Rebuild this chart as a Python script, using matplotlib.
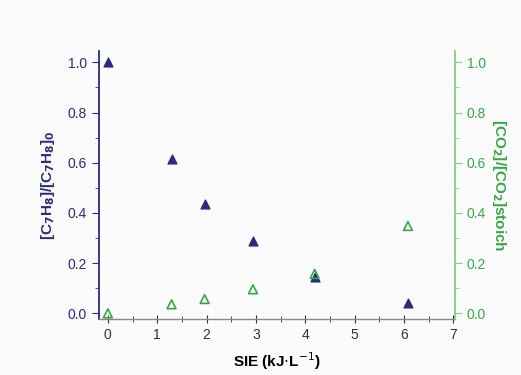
import matplotlib
matplotlib.use("Agg")
import matplotlib.pyplot as plt
from matplotlib.ticker import MultipleLocator

sie = [0.0, 1.29, 1.96, 2.94, 4.19, 6.08]
toluene_ratio = [1.0, 0.613, 0.435, 0.289, 0.146, 0.04]
co2_ratio = [0.0, 0.036, 0.057, 0.096, 0.157, 0.348]
x_ticks = [0, 1, 2, 3, 4, 5, 6, 7]
y_ticks = [0.0, 0.2, 0.4, 0.6, 0.8, 1.0]

navy = "#2b2b7e"
green = "#36a845"
light_green = "#7fcf8c"

plt.rcParams['font.family'] = ['Liberation Sans', 'DejaVu Sans']

fig = plt.figure(figsize=(5.21, 3.75), dpi=100)
fig.patch.set_facecolor("#fbfbfb")
ax = fig.add_axes([0.190, 0.149, 0.683, 0.715])
ax.set_facecolor("#fbfbfb")
ax2 = ax.twinx()

ax.scatter(sie, toluene_ratio, marker="^", s=40, color=navy, zorder=3)
ax2.scatter(sie, co2_ratio, marker="^", s=40, facecolors="none", edgecolors=green, linewidths=1.2, zorder=3)

for a in (ax, ax2):
    a.set_xlim(-0.18, 7.03)
    a.set_ylim(-0.023, 1.045)
    a.spines['top'].set_visible(False)

ax.set_xticks(x_ticks)
ax.xaxis.set_minor_locator(MultipleLocator(0.5))
ax.set_yticks(y_ticks)
ax.yaxis.set_minor_locator(MultipleLocator(0.1))
ax2.set_yticks(y_ticks)
ax2.yaxis.set_minor_locator(MultipleLocator(0.1))

ax.spines['left'].set_color(navy)
ax.spines['left'].set_linewidth(1.3)
ax.spines['bottom'].set_color("#888888")
ax.spines['bottom'].set_linewidth(1.0)
ax.spines['right'].set_visible(False)
ax2.spines['left'].set_visible(False)
ax2.spines['bottom'].set_visible(False)
ax2.spines['right'].set_color(light_green)
ax2.spines['right'].set_linewidth(1.3)

ax.tick_params(axis='y', which='both', colors=navy, labelcolor=navy, labelsize=10, direction='out')
ax.tick_params(axis='y', which='major', length=5)
ax.tick_params(axis='y', which='minor', length=3)
ax.tick_params(axis='x', which='both', colors="#333333", labelcolor="#333333", labelsize=10, direction='inout')
ax.tick_params(axis='x', which='major', length=6)
ax.tick_params(axis='x', which='minor', length=4)
ax2.tick_params(axis='y', which='both', colors=light_green, labelcolor=green, labelsize=10, direction='out')
ax2.tick_params(axis='y', which='major', length=5)
ax2.tick_params(axis='y', which='minor', length=3)

ax.set_yticklabels([f"{v:.1f}" for v in y_ticks])
ax2.set_yticklabels([f"{v:.1f}" for v in y_ticks])

ax.set_xlabel(r"SIE (kJ$\cdot$L$^{-1}$)", fontsize=11, fontweight='bold', labelpad=6)
ax.set_ylabel(r"[C$_\mathbf{7}$H$_\mathbf{8}$]/[C$_\mathbf{7}$H$_\mathbf{8}$]$_\mathbf{0}$", fontsize=11, fontweight='bold', color=navy, labelpad=8)
ax2.set_ylabel(r"[CO$_\mathbf{2}$]/[CO$_\mathbf{2}$]stoich", fontsize=11, fontweight='bold', color=green, rotation=270, labelpad=16)

fig.savefig("out.png", dpi=100, facecolor=fig.get_facecolor())
